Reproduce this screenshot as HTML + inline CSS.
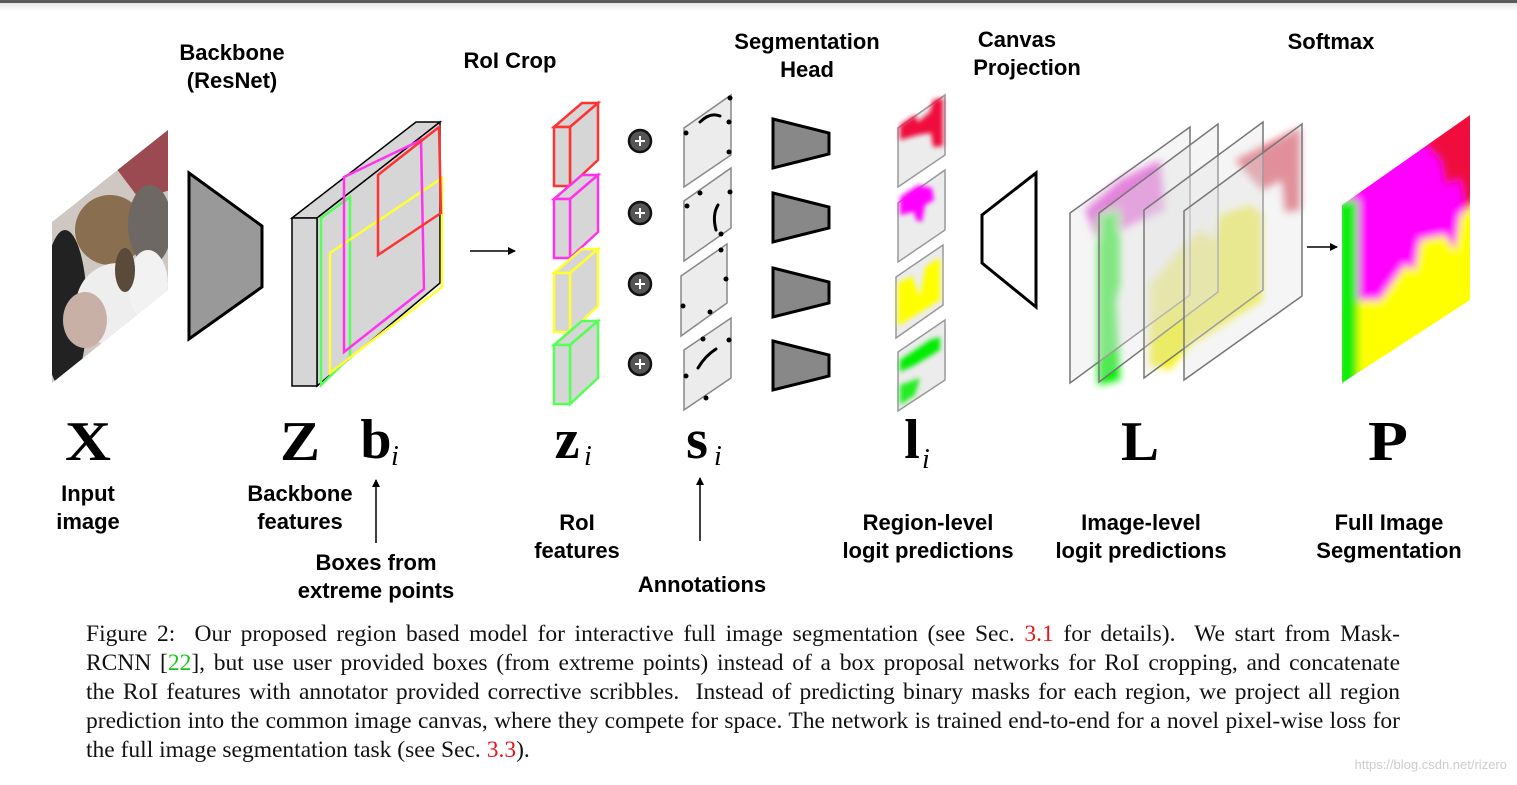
<!DOCTYPE html>
<html><head><meta charset="utf-8"><style>
html,body{margin:0;padding:0;background:#fff;}
body{width:1517px;height:785px;position:relative;overflow:hidden;}
.cap{position:absolute;left:86px;top:620px;width:1314px;font-family:"Liberation Serif",serif;font-size:23.5px;line-height:29px;color:#111;}
.cap div{text-align:justify;text-align-last:justify;white-space:nowrap;}
.cap div.l{text-align-last:left;}
.r{color:#e8141c}.g{color:#1bc41b}
.wm{position:absolute;right:10px;top:757px;font-family:"Liberation Sans",sans-serif;font-size:13px;color:#ccc;}
</style></head><body>
<div style="position:absolute;left:0;top:0;width:1517px;height:3px;background:#5a5a5a"></div>
<div style="position:absolute;left:0;top:3px;width:1517px;height:8px;background:linear-gradient(#e6e6e6,#fff)"></div>
<svg width="1517" height="620" style="position:absolute;left:0;top:0" xmlns="http://www.w3.org/2000/svg">
<defs>
<filter id="bl" x="-20%" y="-20%" width="140%" height="140%"><feGaussianBlur stdDeviation="4"/></filter>
<filter id="bl2" x="-20%" y="-20%" width="140%" height="140%"><feGaussianBlur stdDeviation="2.5"/></filter>
<clipPath id="catc"><polygon points="52,222 168,130 168,290 52,383"/></clipPath>
<clipPath id="pc"><polygon points="1342,205 1470,115 1470,300 1342,383"/></clipPath>
<marker id="ah" markerWidth="8" markerHeight="8" refX="7" refY="4" orient="auto" markerUnits="userSpaceOnUse"><path d="M0,0 L8,4 L0,8 z" fill="#000"/></marker>
</defs>
<g font-family="Liberation Sans, sans-serif" font-weight="bold" font-size="22" text-anchor="middle" fill="#000">
<text x="232" y="60">Backbone</text><text x="232" y="88">(ResNet)</text>
<text x="510" y="68">RoI Crop</text>
<text x="807" y="49">Segmentation</text><text x="807" y="77">Head</text>
<text x="1017" y="47">Canvas</text><text x="1027" y="75">Projection</text>
<text x="1331" y="49">Softmax</text>
<text x="88" y="501">Input</text><text x="88" y="529">image</text>
<text x="300" y="501">Backbone</text><text x="300" y="529">features</text>
<text x="376" y="570">Boxes from</text><text x="376" y="598">extreme points</text>
<text x="577" y="530">RoI</text><text x="577" y="558">features</text>
<text x="702" y="592">Annotations</text>
<text x="928" y="530">Region-level</text><text x="928" y="558">logit predictions</text>
<text x="1141" y="530">Image-level</text><text x="1141" y="558">logit predictions</text>
<text x="1389" y="530">Full Image</text><text x="1389" y="558">Segmentation</text>
</g>
<g font-family="Liberation Serif, serif" font-weight="bold" font-size="56" text-anchor="middle" fill="#000">
<text x="88" y="460" textLength="46" lengthAdjust="spacingAndGlyphs">X</text><text x="300" y="460" textLength="40" lengthAdjust="spacingAndGlyphs">Z</text><text x="1140" y="460" textLength="38" lengthAdjust="spacingAndGlyphs">L</text><text x="1388" y="460" textLength="40" lengthAdjust="spacingAndGlyphs">P</text>
<text x="376" y="458">b</text><text x="567" y="458">z</text><text x="697" y="458">s</text><text x="912" y="458">l</text>
</g>
<g font-family="Liberation Serif, serif" font-style="italic" font-size="28" fill="#000">
<text x="391" y="465">i</text><text x="584" y="465">i</text><text x="714" y="465">i</text><text x="922" y="468">i</text>
</g>
<line x1="376" y1="543" x2="376" y2="480" stroke="#000" stroke-width="1.5" marker-end="url(#ah)"/>
<line x1="700" y1="541" x2="700" y2="478" stroke="#000" stroke-width="1.5" marker-end="url(#ah)"/>
<g clip-path="url(#catc)">
<rect x="50" y="128" width="120" height="260" fill="#cfc8c2"/>
<path d="M110,160 L170,125 L170,190 L140,200z" fill="#9a4a50"/>
<ellipse cx="65" cy="310" rx="22" ry="80" fill="#222"/>
<ellipse cx="110" cy="230" rx="35" ry="35" fill="#8a6e50"/>
<ellipse cx="150" cy="225" rx="22" ry="40" fill="#6e6864"/>
<ellipse cx="118" cy="305" rx="42" ry="42" fill="#eeeeee"/>
<ellipse cx="85" cy="320" rx="22" ry="28" fill="#c8b0a6"/>
<ellipse cx="148" cy="285" rx="20" ry="35" fill="#f2f2f2"/>
<ellipse cx="125" cy="270" rx="10" ry="22" fill="#5a4a3a"/>
</g>
<polygon points="189,173 262,226 262,287 189,339" fill="#999" stroke="#000" stroke-width="3"/>
<polygon points="292,218 416,122 440,122 317,218" fill="#d6d6d6" stroke="#000" stroke-width="1.5"/>
<polygon points="317,218 440,122 440,283 317,386" fill="#d6d6d6" stroke="#000" stroke-width="1.5"/>
<rect x="292" y="218" width="25" height="168" fill="#d6d6d6" stroke="#000" stroke-width="1.5"/>
<g fill="none" stroke-width="2.5">
<polygon points="321,218 350,197 350,357 321,385" stroke="#5f5"/>
<polygon points="330,253 442,178 442,287 330,373" stroke="#ff3"/>
<polygon points="344,177 421,140 424,289 344,352" stroke="#f3e"/>
<polygon points="378,175 439,127 441,213 378,255" stroke="#f33"/>
</g>
<line x1="470" y1="251" x2="515" y2="251" stroke="#000" stroke-width="1.5" marker-end="url(#ah)"/>
<g stroke-width="2.5" fill="#d6d6d6">
<g stroke="#f33"><polygon points="554,127 582,103 598,103 570,127"/><polygon points="570,127 598,103 598,160 570,186"/><rect x="554" y="127" width="16" height="59"/></g>
<g stroke="#f3e" transform="translate(0,72)"><polygon points="554,127 582,103 598,103 570,127"/><polygon points="570,127 598,103 598,160 570,186"/><rect x="554" y="127" width="16" height="59"/></g>
<g stroke="#ff3" transform="translate(0,146)"><polygon points="554,127 582,103 598,103 570,127"/><polygon points="570,127 598,103 598,160 570,186"/><rect x="554" y="127" width="16" height="59"/></g>
<g stroke="#5f5" transform="translate(0,218)"><polygon points="554,127 582,103 598,103 570,127"/><polygon points="570,127 598,103 598,160 570,186"/><rect x="554" y="127" width="16" height="59"/></g>
</g>
<g fill="#555" stroke="#111" stroke-width="2.5">
<circle cx="640" cy="141" r="11"/><circle cx="640" cy="213" r="11"/><circle cx="640" cy="284" r="11"/><circle cx="640" cy="364" r="11"/>
</g>
<g stroke="#fff" stroke-width="2">
<path d="M635,141h10M640,136v10"/><path d="M635,213h10M640,208v10"/><path d="M635,284h10M640,279v10"/><path d="M635,364h10M640,359v10"/>
</g>
<g fill="#ececec" stroke="#888" stroke-width="1.5">
<polygon points="684,128 731,95 731,155 684,187"/>
<polygon points="684,201 731,168 731,228 684,261"/>
<polygon points="681,276 727,244 727,303 681,336"/>
<polygon points="684,350 731,318 731,378 684,410"/>
</g>
<g fill="#000">
<circle cx="730" cy="98" r="2.5"/><circle cx="729" cy="122" r="2.5"/><circle cx="686" cy="133" r="2.5"/><circle cx="729" cy="152" r="2.5"/>
<circle cx="700" cy="193" r="2.5"/><circle cx="730" cy="192" r="2.5"/><circle cx="687" cy="206" r="2.5"/><circle cx="721" cy="234" r="2.5"/>
<circle cx="721" cy="250" r="2.5"/><circle cx="726" cy="279" r="2.5"/><circle cx="683" cy="306" r="2.5"/><circle cx="710" cy="312" r="2.5"/>
<circle cx="703" cy="339" r="2.5"/><circle cx="729" cy="340" r="2.5"/><circle cx="686" cy="376" r="2.5"/><circle cx="706" cy="398" r="2.5"/>
</g>
<g fill="none" stroke="#000" stroke-width="3" stroke-linecap="round">
<path d="M700,122 Q710,112 720,116"/><path d="M718,205 Q712,215 716,230"/><path d="M698,368 Q705,356 716,349"/>
</g>
<g fill="#888" stroke="#000" stroke-width="3">
<polygon points="773,119 829,133 829,154 773,168"/>
<polygon points="773,193 829,207 829,228 773,242"/>
<polygon points="773,268 829,282 829,303 773,317"/>
<polygon points="773,341 829,355 829,376 773,390"/>
</g>
<g fill="#ececec" stroke="#999" stroke-width="1.5">
<polygon points="898,128 945,95 945,155 898,187"/>
<polygon points="898,203 945,170 945,230 898,262"/>
<polygon points="896,277 943,245 943,305 896,338"/>
<polygon points="898,352 945,320 945,380 898,411"/>
</g>
<g filter="url(#bl2)">
<polygon points="900,125 915,115 918,122 930,112 933,100 943,98 943,146 933,147 931,133 918,135 900,140" fill="#f0103c"/>
<path d="M900,197 L918,185 L932,188 L934,200 L925,205 L922,222 L916,220 L914,212 L900,215z" fill="#f0f"/>
<path d="M898,283 L912,276 L920,297 L925,268 L932,262 L940,258 L940,300 L898,326z" fill="#ff0"/>
<path d="M900,360 L930,340 L940,337 L940,350 L915,365 L900,372z" fill="#0e0"/>
<path d="M900,385 L920,378 L915,395 L900,405z" fill="#2e2"/>
</g>
<polygon points="982,215 1036,173 1036,307 982,263" fill="#fff" stroke="#000" stroke-width="3"/>
<g filter="url(#bl)">
<path d="M1085,210 L1120,180 L1160,160 L1165,210 L1130,225 L1100,245z" fill="#e44fd8"/>
<path d="M1098,215 L1120,208 L1120,285 L1116,300 L1120,380 L1098,385z" fill="#0e0"/>
<path d="M1150,285 L1180,250 L1200,230 L1215,240 L1220,215 L1250,205 L1262,215 L1262,300 L1190,345 L1170,370 L1150,365z" fill="#f2f020"/>
<path d="M1235,160 L1300,128 L1300,210 L1285,212 L1282,180 L1262,190z" fill="#e06575"/>
</g>
<g fill="rgba(225,225,225,0.35)" stroke="#777" stroke-width="1.5">
<polygon points="1070,213 1190,127 1190,295 1070,383"/>
<polygon points="1099,213 1218,124 1218,292 1099,382"/>
<polygon points="1144,210 1263,122 1263,290 1144,378"/>
<polygon points="1184,211 1302,124 1302,296 1184,380"/>
</g>
<line x1="1307" y1="247" x2="1337" y2="247" stroke="#000" stroke-width="1.5" marker-end="url(#ah)"/>
<g clip-path="url(#pc)">
<g filter="url(#bl)">
<rect x="1330" y="100" width="150" height="300" fill="#ff0"/>
<path d="M1330,180 L1400,150 L1470,105 L1480,110 L1480,200 L1460,215 L1455,250 L1445,235 L1420,240 L1415,270 L1405,265 L1380,300 L1360,300 L1330,310z" fill="#f0f"/>
<path d="M1420,140 L1470,105 L1480,110 L1480,200 L1465,210 L1460,180 L1445,185 L1440,160z" fill="#f0103c"/>
<rect x="1335" y="200" width="23" height="190" fill="#1e1"/>
</g>
</g>
</svg>
<div class="cap">
<div>Figure 2:&nbsp; Our proposed region based model for interactive full image segmentation (see Sec. <span class="r">3.1</span> for details).&nbsp; We start from Mask-</div>
<div>RCNN [<span class="g">22</span>], but use user provided boxes (from extreme points) instead of a box proposal networks for RoI cropping, and concatenate</div>
<div>the RoI features with annotator provided corrective scribbles.&nbsp; Instead of predicting binary masks for each region, we project all region</div>
<div>prediction into the common image canvas, where they compete for space. The network is trained end-to-end for a novel pixel-wise loss for</div>
<div class="l">the full image segmentation task (see Sec. <span class="r">3.3</span>).</div>
</div>
<div class="wm">https://blog.csdn.net/rizero</div>
</body></html>
